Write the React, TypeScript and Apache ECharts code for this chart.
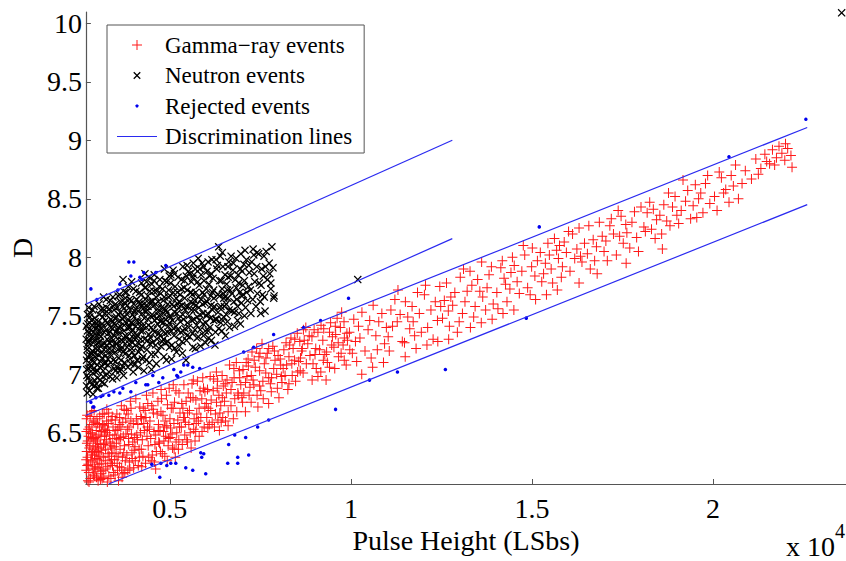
import React, { useEffect, useRef } from "react";
import * as echarts from "echarts";

const SERIF = '"Liberation Serif", "Times New Roman", serif';
const AXIS_COLOR = "#555555";

// Gamma-ray events (pulse height in LSbs, discrimination value D)
const gammaLow = [
  [2712,6.41],[2695,6.18],[2788,6.55],[2741,6.09],[2866,6.33],[2703,6.62],[2819,6.26],[2757,6.47],[2892,6.14],[2730,6.29],
  [2845,6.68],[2776,6.37],[2699,6.51],[2808,6.11],[2883,6.44],[2722,6.22],[2851,6.57],[2765,6.16],[2797,6.39],[2874,6.25],
  [2718,6.65],[2836,6.31],[2748,6.53],[2890,6.60],[2706,6.34],[2828,6.46],[2770,6.08],[2859,6.19],[2735,6.43],[2801,6.64],
  [2881,6.36],[2693,6.27],[2815,6.50],[2752,6.23],[2868,6.49],
  [2918,6.21],[3043,6.48],[2977,6.12],[3121,6.35],[2935,6.59],[3089,6.17],[3006,6.41],[2962,6.28],[3137,6.66],[3021,6.09],
  [2904,6.45],[3072,6.30],[2989,6.62],[3110,6.24],[2947,6.38],[3057,6.55],[2926,6.13],[3097,6.47],[3014,6.20],[2970,6.52],
  [3131,6.11],[3036,6.33],[2911,6.69],[3080,6.40],[2996,6.27],[3146,6.57],[2955,6.19],[3066,6.64],[3028,6.37],[2940,6.46],
  [3104,6.15],[2984,6.34],[3051,6.23],[3118,6.51],[2922,6.31],[3008,6.58],[3085,6.10],[2966,6.43],
  [3164,6.29],[3318,6.13],[3241,6.50],[3402,6.37],[3187,6.66],[3355,6.24],[3276,6.08],[3433,6.55],[3205,6.41],[3297,6.32],
  [3381,6.61],[3158,6.18],[3262,6.70],[3419,6.22],[3226,6.36],[3340,6.48],[3176,6.12],[3305,6.58],[3391,6.27],[3249,6.44],
  [3444,6.16],[3213,6.53],[3366,6.39],[3288,6.21],[3196,6.47],[3411,6.64],[3328,6.30],[3234,6.19],[3170,6.40],[3374,6.11],
  [3257,6.60],[3426,6.45],[3312,6.67],[3220,6.26],[3396,6.33],[3281,6.52],[3347,6.42],[3183,6.56],
];
const gammaRise = [
  [3462,6.38],[3611,6.21],[3539,6.66],[3717,6.47],[3489,6.14],[3650,6.55],[3574,6.30],[3772,6.26],[3508,6.52],[3683,6.12],
  [3598,6.44],[3741,6.70],[3471,6.27],[3628,6.36],[3556,6.18],[3702,6.59],[3525,6.41],[3789,6.49],[3663,6.73],[3584,6.09],
  [3496,6.61],[3729,6.33],[3642,6.46],[3548,6.24],[3758,6.16],[3616,6.63],[3480,6.48],[3693,6.29],[3566,6.53],[3749,6.39],
  [3517,6.32],[3671,6.20],[3605,6.57],[3783,6.62],[3533,6.45],[3710,6.15],
  [3814,6.31],[3992,6.58],[3897,6.19],[4106,6.44],[3851,6.66],[4048,6.26],[3940,6.49],[4172,6.72],[3829,6.53],[4015,6.35],
  [3911,6.77],[4131,6.22],[3868,6.40],[4077,6.62],[3963,6.28],[4189,6.50],[3842,6.18],[4030,6.46],[3925,6.60],[4152,6.36],
  [3885,6.25],[4063,6.79],[3977,6.42],[4118,6.57],[3807,6.69],[4002,6.20],[3954,6.33],[4090,6.48],[3875,6.55],[4160,6.29],
  [3930,6.71],[4039,6.38],[4198,6.64],[3861,6.45],
  [4213,6.36],[4452,6.60],[4330,6.24],[4611,6.48],[4268,6.71],[4518,6.31],[4385,6.55],[4673,6.77],[4241,6.44],[4487,6.26],
  [4356,6.82],[4590,6.40],[4297,6.52],[4549,6.67],[4419,6.29],[4688,6.57],[4226,6.21],[4473,6.45],[4342,6.63],[4629,6.34],
  [4283,6.58],[4534,6.84],[4404,6.39],[4652,6.66],[4258,6.30],[4501,6.73],[4371,6.47],[4575,6.25],[4319,6.69],[4438,6.53],
  [4696,6.42],[4220,6.62],[4564,6.51],[4393,6.75],
];
const gammaMid = [
  [4718,6.41],[5005,6.62],[4862,6.30],[5193,6.50],[4769,6.79],[5076,6.37],[4918,6.56],[5254,6.84],[4741,6.34],[5041,6.71],
  [4887,6.47],[5152,6.29],[4812,6.65],[5114,6.58],[4955,6.39],[5282,6.67],[4730,6.52],[4983,6.88],[4839,6.43],[5221,6.61],
  [4794,6.32],[5062,6.49],[4936,6.74],[5174,6.42],[4871,6.60],[5238,6.36],[4756,6.68],[5020,6.54],[4907,6.82],[5131,6.76],
  [4825,6.51],[5096,6.91],[4968,6.45],[5267,6.55],
  [5318,6.55],[5642,6.80],[5471,6.44],[5857,6.63],[5390,6.91],[5716,6.51],[5543,6.69],[5931,6.88],[5345,6.40],[5672,6.62],
  [5508,6.84],[5812,6.47],[5431,6.59],[5763,6.94],[5589,6.37],[5968,6.72],[5362,6.71],[5697,6.43],[5526,6.57],[5884,6.79],
  [5413,6.48],[5745,6.66],[5614,6.92],[5950,6.55],[5451,6.77],[5790,6.60],[5565,6.50],[5911,6.97],[5377,6.63],[5660,6.53],
  [5835,6.86],[5492,6.67],
  [6021,6.63],[6478,6.90],[6233,6.55],[6794,6.79],[6115,6.98],[6612,6.68],[6356,6.82],[6921,7.03],[6062,6.71],[6539,6.60],
  [6287,7.02],[6720,6.93],[6170,6.59],[6651,7.08],[6408,6.73],[6880,6.84],[6041,6.87],[6512,6.77],[6260,6.66],[6755,6.62],
  [6142,6.78],[6580,6.95],[6330,6.61],[6960,6.91],[6090,6.57],[6445,6.99],[6200,6.86],[6690,6.73],[6383,6.67],[6836,7.10],
  [6010,6.75],[6561,6.84],[6315,6.94],[6775,6.97],[6462,6.63],[6990,6.80],
  [7043,6.84],[7610,7.09],[7298,6.95],[8014,6.80],[7162,7.13],[7777,6.92],[7433,6.72],[8150,7.21],[7088,6.68],[7692,7.18],
  [7361,7.06],[7951,7.00],[7215,6.89],[7845,7.24],[7512,6.86],[8098,6.93],[7021,7.04],[7580,6.79],[7270,7.19],[7905,7.12],
  [7130,6.98],[7731,6.97],[7398,7.22],[8062,7.08],[7246,6.76],[7655,7.14],[7480,7.03],[8183,6.99],[7110,7.10],[7802,6.85],
  [7546,7.26],[7990,7.16],[7320,6.91],[7870,7.05],[7190,6.82],[7460,7.15],
  [8226,7.08],[8810,7.26],[8473,6.94],[9280,7.17],[8345,7.31],[9044,7.05],[8640,7.20],[9410,7.36],[8260,6.87],[8925,7.32],
  [8560,7.11],[9176,7.42],[8405,7.22],[9090,6.98],[8712,7.29],[9350,7.10],[8290,7.15],[8985,7.38],[8602,7.03],[9470,7.25],
  [8380,6.99],[8870,7.16],[8520,7.35],[9225,7.29],[8445,7.12],[9136,7.21],[8756,7.40],[9315,6.95],[8310,7.25],[8955,7.09],
  [8681,7.01],[9440,7.44],[8590,7.28],[9030,7.22],
];
const gammaMidExtra = [
  [4540,6.70],[4610,6.19],[4680,6.52],[4760,6.87],[4850,6.55],[4930,6.26],[5010,6.46],[5090,6.71],[5170,6.86],[5250,6.44],
  [5330,6.75],[5410,6.63],[5490,6.42],[5570,6.80],[5650,6.95],[5730,6.58],[5810,6.71],[5890,6.51],[5970,6.85],[6050,6.54],
  [6130,6.69],[6210,6.96],[6290,6.76],[6370,6.52],[6450,6.80],[6530,6.92],[6610,6.56],[6690,6.87],[6770,7.05],[6850,6.68],
  [6930,6.97],[7010,6.76],[7090,6.93],[7170,7.07],[7250,6.99],[7330,7.12],[7410,6.82],[7490,7.18],[7570,6.94],[7650,7.01],
  [7730,7.22],[7810,6.97],[7890,7.20],[7970,6.88],[8050,7.13],[8130,7.05],[8210,7.27],[8290,6.92],[8370,7.09],[8450,7.30],
  [8530,7.02],[8610,7.14],[8690,7.38],[8770,7.09],[8850,7.33],[8930,6.95],[9010,7.17],[9090,7.36],[9170,7.02],[9250,7.39],
  [9330,7.19],[9410,7.06],[9490,7.32],[9570,7.41],[9650,7.27],[9730,7.18],[9810,7.45],[9890,7.35],[9970,7.21],[5120,6.36],
  [5720,6.78],[6310,6.88],[6890,6.82],[7480,6.90],[8080,6.98],[8660,7.22],[9240,7.12],[9820,7.31],[6420,6.59],[7730,6.75],
];
const gammaHigh = [
  [9532,7.23],[10210,7.41],[9817,7.12],[10690,7.33],[9620,7.48],[10390,7.20],[9960,7.36],[10855,7.52],[9555,7.05],[10126,7.28],
  [9710,7.40],[10560,7.14],[9905,7.29],[10770,7.45],[9580,7.34],[10305,7.53],[10040,7.18],[10930,7.26],[9785,7.25],[10475,7.38],
  [9660,7.15],[10615,7.59],[10080,7.47],[10980,7.40],[9870,7.08],[10250,7.31],[9745,7.53],[10730,7.21],[10160,7.11],[10520,7.46],
  [11030,7.32],[11690,7.58],[11280,7.45],[12120,7.40],[11105,7.55],[11840,7.70],[11420,7.28],[12330,7.62],[11060,7.20],[11570,7.49],
  [11945,7.36],[12455,7.75],[11215,7.64],[11760,7.33],[11360,7.51],[12210,7.55],[11150,7.41],[12030,7.68],[11505,7.62],[12390,7.46],
  [11625,7.39],[11300,7.72],[12270,7.30],[11890,7.52],[11480,7.27],[12060,7.76],[11720,7.45],[12480,7.58],
  [12530,7.48],[13210,7.71],[12810,7.59],[13640,7.66],[12640,7.78],[13390,7.49],[12940,7.36],[13815,7.85],[12580,7.63],[13080,7.52],
  [13500,7.81],[13930,7.60],[12720,7.41],[13290,7.88],[12870,7.70],[13720,7.55],[13020,7.83],[13560,7.71],[12690,7.54],[13150,7.62],
  [13430,7.58],[13880,7.92],[12990,7.45],[13340,7.76],[12760,7.66],[13610,7.96],[13110,7.90],[13760,7.74],
  [14030,7.70],[14720,7.88],[14310,7.62],[15150,7.97],[14140,7.91],[14880,7.74],[14460,8.00],[15320,7.86],[14060,7.56],[14590,7.79],
  [15010,8.08],[15440,8.12],[14230,7.82],[14950,7.68],[14390,7.73],[15230,8.04],[14510,7.93],[15080,7.84],[14180,7.97],[14800,8.02],
  [14650,7.69],[15370,7.95],[14270,7.77],[14990,7.92],[14420,7.87],[15270,7.79],[14760,8.10],[15480,8.02],
  [10300,7.00],[10900,7.10],[11500,7.15],[12100,7.25],[12700,7.30],[13300,7.40],[13900,7.47],[14500,7.55],[15100,7.64],[15700,7.72],
  [11800,7.22],[13600,7.44],[14200,7.52],[15400,7.68],[16300,7.78],[10600,7.06],[12400,7.28],[16800,7.86],[17600,7.95],[18600,8.07],
];
const gammaTop = [
  [15530,7.90],[16240,8.07],[15810,7.83],[16690,8.15],[15620,8.16],[16380,7.96],[15950,8.04],[16860,8.30],[15570,7.78],[16120,8.20],
  [15730,7.99],[16530,8.03],[15890,8.13],[16610,7.90],[16050,7.88],[16940,8.18],[15680,8.06],[16300,8.25],[16180,7.99],[16780,8.09],
  [15840,7.92],[16450,8.12],[16010,8.22],[16730,7.97],[15760,8.10],[16570,8.27],[16340,8.01],[16990,8.05],
  [17040,8.14],[17760,8.30],[17330,8.02],[18180,8.38],[17150,8.27],[17890,8.17],[17460,8.35],[18300,8.24],[17080,7.97],[17620,8.21],
  [18010,8.43],[18440,8.32],[17250,8.20],[17940,8.05],[17520,8.12],[18250,8.47],[17380,8.40],[18090,8.26],[17700,8.08],[18400,8.16],
  [17190,8.33],[17830,8.39],[17590,8.28],[18350,8.41],[17420,8.18],[18130,8.22],
  [18530,8.36],[19240,8.48],[18810,8.27],[19660,8.55],[18640,8.45],[19380,8.33],[18950,8.52],[19790,8.63],[18580,8.20],[19120,8.40],
  [19510,8.62],[19910,8.46],[18720,8.31],[19300,8.57],[18880,8.43],[19720,8.38],[19050,8.29],[19600,8.50],[18770,8.55],[19450,8.44],
  [19170,8.66],[19850,8.70],[19000,8.36],[19550,8.34],
  [20040,8.52],[20560,8.61],[20230,8.68],[20890,8.74],[20110,8.40],[20700,8.50],[20350,8.58],[21060,8.67],[20170,8.73],[20620,8.79],
  [20440,8.47],[21180,8.84],[20290,8.55],[20800,8.63],[20500,8.70],[21320,8.76],[21430,8.88],[21560,8.80],[21640,8.92],[21750,8.85],
  [21820,8.95],[21900,8.89],[21980,8.83],[22060,8.93],[22150,8.87],[21480,8.82],[21700,8.79],[22000,8.97],[21250,8.71],[22180,8.77],
];

// Neutron events
const neutronLeft = [
  [2702,7.12],[2846,6.91],[2768,7.35],[2955,7.02],[2720,6.84],[2889,7.27],[2793,7.49],[2931,7.18],[2697,7.41],[2812,7.06],
  [2975,7.33],[2743,6.97],[2867,7.55],[2990,6.88],[2731,7.24],[2901,7.10],[2785,6.86],[2940,7.45],[2711,6.99],[2858,7.20],
  [2760,7.57],[2918,6.95],[2826,7.38],[2965,7.14],[2693,7.30],[2838,7.46],[2751,7.05],[2880,6.83],[2984,7.26],[2727,7.51],
  [2804,7.16],[2947,7.39],[2716,7.21],[2873,7.01],[2779,7.29],[2912,7.58],[2998,7.08],[2739,7.43],[2852,7.13],[2926,6.90],
  [2796,6.94],[2960,7.22],[2707,7.04],[2892,7.36],[2831,7.31],
  [3012,7.17],[3263,7.44],[3128,6.93],[3401,7.28],[3047,7.60],[3319,7.02],[3185,7.36],[3462,7.55],[3030,6.88],[3282,7.21],
  [3150,7.49],[3421,6.96],[3091,7.32],[3358,7.63],[3210,7.09],[3489,7.19],[3006,7.42],[3240,6.99],[3117,7.25],[3377,7.47],
  [3066,7.06],[3302,7.35],[3171,7.66],[3440,7.12],[3021,7.27],[3254,7.57],[3139,7.14],[3415,7.39],[3078,6.95],[3336,7.27],
  [3198,6.92],[3476,7.33],[3055,7.51],[3291,7.13],[3160,7.03],[3393,7.20],[3105,7.40],[3347,6.98],[3226,7.46],[3499,7.03],
  [3040,7.22],[3270,7.30],[3144,7.56],[3430,7.66],[3085,7.11],[3310,7.52],[3193,7.26],[3455,7.43],[3016,6.97],[3232,7.16],
  [3121,7.07],[3369,7.10],[3062,7.37],[3387,7.31],[3248,7.64],
];
const neutronCore = [
  [3514,7.26],[3822,7.51],[3663,7.04],[3980,7.38],[3571,7.67],[3905,7.13],[3740,7.42],[4066,7.71],[3538,6.97],[3866,7.29],
  [3702,7.58],[4023,7.08],[3606,7.35],[3947,7.79],[3783,7.18],[4088,7.46],[3525,7.49],[3843,7.06],[3680,7.23],[4004,7.60],
  [3590,7.14],[3926,7.44],[3761,7.70],[4049,7.25],[3552,7.38],[3885,7.64],[3724,6.99],[3962,7.19],[3628,7.53],[4035,7.35],
  [3801,7.32],[3505,7.11],[3857,7.75],[3691,7.47],[3990,7.02],[3579,7.21],[3913,7.55],[3752,7.10],[4077,7.31],[3641,7.62],
  [3968,7.27],[3812,7.44],[3545,7.57],[3877,7.16],[3716,7.28],[4014,7.49],[3617,7.03],[3935,7.36],[3776,7.65],[4097,7.12],
  [3563,7.30],[3895,7.40],[3733,7.37],[3655,7.12],[3831,7.59],[3998,7.73],[3598,7.45],[3952,7.22],[3710,7.81],[4058,7.56],
  [4112,7.33],[4455,7.62],[4270,7.15],[4641,7.48],[4166,7.70],[4520,7.27],[4338,7.53],[4726,7.81],[4135,7.06],[4489,7.40],
  [4309,7.74],[4672,7.20],[4205,7.45],[4571,7.85],[4384,7.29],[4770,7.57],[4124,7.54],[4437,7.10],[4251,7.37],[4618,7.66],
  [4190,7.22],[4545,7.50],[4360,7.79],[4700,7.35],[4152,7.62],[4505,7.77],[4287,7.03],[4659,7.43],[4229,7.59],[4595,7.17],
  [4412,7.42],[4751,7.69],[4178,7.41],[4470,7.31],[4322,7.64],[4686,7.53],[4241,7.13],[4559,7.71],[4399,7.47],[4790,7.28],
  [4143,7.19],[4427,7.83],[4299,7.48],[4630,7.09],[4218,7.78],[4582,7.36],[4370,7.21],[4739,7.45],[4262,7.56],[4608,7.60],
  [4349,7.12],[4713,7.75],[4196,7.30],[4532,7.58],[4445,7.26],[4762,7.39],[4315,7.86],[4652,7.30],[4497,7.04],[4395,7.67],
  [4812,7.44],[5210,7.70],[4990,7.23],[5430,7.55],[4866,7.80],[5305,7.36],[5065,7.60],[5515,7.88],[4838,7.15],[5246,7.48],
  [5030,7.85],[5462,7.29],[4925,7.53],[5362,7.92],[5118,7.33],[5578,7.62],[4820,7.63],[5185,7.19],[4958,7.41],[5395,7.74],
  [4893,7.27],[5330,7.59],[5092,7.89],[5490,7.44],[4850,7.90],[5270,7.24],[5012,7.67],[5447,7.12],[4940,7.36],[5378,7.47],
  [5145,7.75],[5550,7.32],[4880,7.47],[5228,7.83],[5050,7.13],[5412,7.65],[4970,7.72],[5350,7.18],[5170,7.41],[5595,7.79],
  [4830,7.30],[5287,7.68],[5004,7.50],[5478,7.93],[4907,7.12],[5320,7.81],[5106,7.58],[5532,7.50],[4855,7.56],[5196,7.52],
  [5040,7.37],[5418,7.39],[4985,7.84],[5258,7.30],[5130,7.22],[5565,7.70],[4948,7.60],[5340,7.28],[5080,7.46],[5500,7.58],
];
const neutronRight = [
  [5612,7.46],[6010,7.73],[5790,7.32],[6230,7.58],[5666,7.85],[6105,7.40],[5865,7.64],[6315,7.93],[5638,7.23],[6046,7.52],
  [5830,7.90],[6262,7.36],[5725,7.59],[6162,7.98],[5918,7.43],[6378,7.67],[5620,7.68],[5985,7.27],[5758,7.49],[6195,7.82],
  [5693,7.38],[6130,7.67],[5892,7.95],[6290,7.47],[5650,7.95],[6070,7.31],[5812,7.76],[6247,7.25],[5740,7.42],[6178,7.55],
  [5945,7.80],[6350,7.39],[5680,7.55],[6028,7.88],[5850,7.24],[6212,7.72],[5770,7.79],[6150,7.29],[5970,7.61],[6395,8.01],
  [5630,7.35],[6087,7.77],[5804,7.57],[6278,7.98],[5707,7.22],[6120,7.48],[5906,7.70],[6332,7.53],[5655,7.60],[5996,7.44],
  [5840,7.38],[6218,7.65],[5785,7.99],[6058,7.96],[5930,7.33],
  [6412,7.58],[6810,7.81],[6590,7.45],[7030,7.68],[6466,7.92],[6905,7.52],[6665,7.72],[7115,7.98],[6438,7.37],[6846,7.64],
  [6630,7.96],[7062,7.50],[6525,7.66],[6962,8.03],[6718,7.54],[7178,7.75],[6420,7.80],[6785,7.41],[6558,7.60],[6995,7.88],
  [6493,7.49],[6930,7.70],[6692,8.01],[7090,7.57],[6450,8.04],[6870,7.46],[6612,7.83],[7047,7.94],[6540,7.33],[6978,7.61],
  [6745,7.89],[7150,7.63],[6480,7.69],[6828,7.99],[6650,7.40],[7012,7.76],[6570,7.77],[6950,7.43],[6770,7.62],[7195,7.87],
  [6430,7.47],[6887,7.85],[6604,7.65],[7078,8.06],[6507,7.58],
  [7225,7.72],[7540,7.90],[7380,7.58],[7700,7.81],[7262,7.96],[7610,7.66],[7455,8.03],[7790,7.73],[7240,7.52],[7580,7.84],
  [7420,7.69],[7745,7.95],[7330,7.86],[7660,8.05],[7500,7.62],[7850,7.91],[7300,8.07],[7630,7.54],[7470,7.78],[7880,7.67],
  [6350,8.09],[7320,8.02],[7600,8.01],[7820,8.09],[7870,7.65],[7510,7.52],[7790,7.78],[7410,8.04],
  [10190,7.81],[23550,10.09],
];
const neutronExtra = [
  [2725,7.37],[2862,7.42],[2790,7.09],[2945,7.29],[3025,7.45],[3110,7.18],[3205,7.52],[3290,7.08],[2700,6.90],[2812,7.52],
  [2905,7.05],[2988,7.40],[3075,7.28],[3162,6.98],[3245,7.38],[2756,7.27],[2840,7.18],[2925,7.48],[3010,7.03],[3098,7.55],
  [3180,7.21],[3265,7.25],[2735,7.15],[2877,7.33],[2970,6.92],[3050,7.34],[3135,7.43],[3222,7.10],[3300,7.43],[2784,7.44],
  [3335,7.56],[3412,7.24],[3488,7.48],[3560,7.06],[3635,7.41],[3712,7.19],[3790,7.54],[3865,7.40],[3942,7.63],[4020,7.16],
  [3360,7.17],[3438,7.58],[3515,7.36],[3590,7.51],[3668,7.29],[3745,7.61],[3820,7.23],[3898,7.30],[3975,7.51],[4055,7.41],
  [3385,7.40],[3465,7.05],[3540,7.26],[3615,7.68],[3695,7.07],[3770,7.33],[3848,7.47],[3922,7.09],[4000,7.31],[4080,7.64],
  [3350,7.36],[3428,7.45],[3502,7.60],[3578,7.40],[3652,7.21],[3728,7.49],[3805,7.70],[3880,7.26],[3958,7.44],[4035,7.54],
  [4120,7.45],[4215,7.68],[4305,7.30],[4400,7.58],[4490,7.17],[4585,7.46],[4680,7.62],[4775,7.46],[4870,7.35],[4965,7.66],
  [4145,7.26],[4238,7.52],[4330,7.74],[4425,7.34],[4515,7.62],[4610,7.25],[4705,7.50],[4800,7.73],[4895,7.55],[4990,7.44],
  [4170,7.60],[4262,7.41],[4355,7.40],[4450,7.71],[4540,7.38],[4635,7.71],[4730,7.33],[4825,7.52],[4920,7.79],[4105,7.12],
  [4195,7.37],[4290,7.60],[4380,7.55],[4475,7.50],[4565,7.80],[4660,7.56],[4755,7.24],[4845,7.66],[4940,7.28],[4230,7.24],
  [5025,7.78],[5140,7.53],[5255,7.62],[5370,7.37],[5485,7.72],[5600,7.55],[5715,7.70],[5830,7.51],[5945,7.68],[5060,7.25],
  [5175,7.65],[5290,7.45],[5405,7.80],[5520,7.40],[5635,7.82],[5750,7.31],[5865,7.85],[5980,7.37],[5095,7.70],[5210,7.38],
  [5325,7.73],[5440,7.58],[5555,7.86],[5670,7.47],[5785,7.66],[5900,7.60],[5015,7.48],[5130,7.86],[5245,7.57],[5360,7.51],
  [5475,7.33],[5590,7.70],[5705,7.90],[5820,7.46],[5935,7.92],[5110,7.39],[5225,7.60],[5455,7.84],[5690,7.63],[5915,7.52],
  [6030,7.62],[6145,7.86],[6260,7.47],[6375,7.80],[6490,7.65],[6605,7.92],[6720,7.69],[6835,7.74],[6950,7.90],[6065,7.37],
  [6180,7.70],[6295,7.90],[6410,7.44],[6525,7.85],[6640,7.55],[6755,7.95],[6870,7.58],[6985,7.67],[6100,7.84],[6215,7.46],
  [6330,7.68],[6445,7.73],[6560,7.51],[6675,7.84],[6790,7.53],[6905,7.78],[6015,7.50],[6140,7.59],[6365,7.57],[6590,7.72],
  [7060,7.80],[7180,7.93],[7290,7.64],[7400,7.92],[7520,7.76],[7640,7.92],[7760,7.86],[7120,7.70],[7350,7.79],[7560,7.68],
];

// Rejected events
const rejectedEvents = [
  [3870,7.96],[4007,7.96],[3925,7.84],[4173,7.83],[4283,7.87],[4228,7.81],[4614,7.87],[4890,7.93],[2822,7.73],[2987,7.64],
  [3621,7.77],[3566,7.72],[5386,7.08],[5496,7.08],[5634,7.06],[5303,7.02],[5220,6.98],[4807,6.97],[4696,6.93],[4338,6.91],
  [4062,6.93],[3704,6.88],[3456,6.85],[3318,6.82],[3153,6.82],[2960,6.80],[2822,6.76],[2905,6.72],[7316,7.23],[7867,7.34],
  [7040,7.19],[5827,7.05],[5193,6.99],[5110,7.04],[4531,6.99],[4393,6.91],[3925,6.85],[3621,6.84],[3098,6.81],[2877,6.72],
  [7729,6.61],[7426,6.55],[7095,6.46],[6792,6.48],[6626,6.40],[7178,6.31],[6875,6.29],[6875,6.24],[6599,6.24],[5992,6.15],
  [5634,6.18],[5441,6.20],[5165,6.24],[5027,6.24],[4917,6.22],[4752,6.24],[5855,6.33],[5937,6.32],[5882,6.29],[4724,6.12],
  [4504,6.23],[15201,8.26],[9935,7.65],[9163,7.46],[8694,7.40],[9577,6.70],[10514,6.95],[11286,7.02],[12609,7.04],[14843,7.48],
  [20439,8.86],[22562,9.18],
];

// Discrimination lines (end points)
const neutronUpperLine = [[2684, 7.6], [12800, 9.0]];
const neutronLowerLine = [[2684, 6.76], [12800, 8.16]];
const gammaUpperLine = [[2684, 6.65], [22600, 9.11]];
const gammaLowerLine = [[3310, 6.062], [22600, 8.45]];

const xTicks = [5000, 10000, 15000, 20000];
const yTicks = [6.5, 7, 7.5, 8, 8.5, 9, 9.5, 10];

const GAMMA = "Gamma\u2212ray events";
const NEUTRON = "Neutron events";
const REJECTED = "Rejected events";
const LINES = "Discrimination lines";

const PLUS = "path://M4.5,0H5.5V4.5H10V5.5H5.5V10H4.5V5.5H0V4.5H4.5Z";
const CROSS = "path://M1.1,0L5,3.9L8.9,0L10,1.1L6.1,5L10,8.9L8.9,10L5,6.1L1.1,10L0,8.9L3.9,5L0,1.1Z";
const CROSS_LEGEND = "path://M0,0M10,10M2.2,1.3L5,4.1L7.8,1.3L8.7,2.2L5.9,5L8.7,7.8L7.8,8.7L5,5.9L2.2,8.7L1.3,7.8L4.1,5L1.3,2.2Z";
const DOT_LEGEND = "path://M0,0M10,10M4.2,3.6H5.8L6.4,4.2V5.8L5.8,6.4H4.2L3.6,5.8V4.2Z";
const LINE_LEGEND = "path://M0,0M40,10M0,4.5H40V5.5H0Z";

const lineSeries = (data: number[][]) => ({
  name: LINES,
  type: "line",
  data,
  symbol: "none",
  showSymbol: false,
  silent: true,
  clip: true,
  lineStyle: { color: "#2a2af0", width: 1.2 },
  itemStyle: { color: "#2a2af0" },
  z: 5,
});

export default function App() {
  const ref = useRef<HTMLDivElement>(null);
  useEffect(() => {
    document.body.style.margin = "0";
    const chart = echarts.init(ref.current!, null, { renderer: "svg" });
    chart.setOption({
      animation: false,
      backgroundColor: "#ffffff",
      grid: { left: 85, right: 0, top: 12, bottom: 77, containLabel: false },
      xAxis: {
        type: "value",
        min: 2684,
        max: 23670,
        name: "Pulse Height (LSbs)",
        nameLocation: "middle",
        nameGap: 34,
        nameTextStyle: { fontFamily: SERIF, fontSize: 28, color: "#000" },
        axisLine: { show: true, onZero: false, lineStyle: { color: AXIS_COLOR, width: 1.2 } },
        axisTick: { show: true, inside: true, length: 5, customValues: xTicks, lineStyle: { color: AXIS_COLOR } },
        axisLabel: {
          customValues: xTicks,
          formatter: (v: number) => String(v / 10000),
          fontFamily: SERIF,
          fontSize: 28,
          color: "#000",
          margin: 10,
        },
        splitLine: { show: false },
      },
      yAxis: {
        type: "value",
        min: 6.062,
        max: 10.097,
        name: "D",
        nameLocation: "middle",
        nameGap: 46,
        nameTextStyle: { fontFamily: SERIF, fontSize: 28, color: "#000" },
        axisLine: { show: true, onZero: false, lineStyle: { color: AXIS_COLOR, width: 1.2 } },
        axisTick: { show: true, inside: true, length: 5, customValues: yTicks, lineStyle: { color: AXIS_COLOR } },
        axisLabel: {
          customValues: yTicks,
          formatter: (v: number) => String(v),
          fontFamily: SERIF,
          fontSize: 28,
          color: "#000",
          margin: 4,
        },
        splitLine: { show: false },
      },
      legend: {
        show: true,
        orient: "vertical",
        left: 107,
        top: 25,
        padding: [8.5, 12, 5, 10],
        itemGap: 7.5,
        itemWidth: 40,
        itemHeight: 10,
        selectedMode: false,
        borderColor: "#555",
        borderWidth: 1,
        backgroundColor: "#fff",
        textStyle: { fontFamily: SERIF, fontSize: 23, color: "#000", lineHeight: 23, padding: [0, 0, 0, 3] },
        data: [
          { name: GAMMA, icon: PLUS },
          { name: NEUTRON, icon: CROSS_LEGEND },
          { name: REJECTED, icon: DOT_LEGEND },
          { name: LINES, icon: LINE_LEGEND },
        ],
      },
      series: [
        {
          name: GAMMA,
          type: "scatter",
          data: [...gammaLow, ...gammaRise, ...gammaMid, ...gammaMidExtra, ...gammaHigh, ...gammaTop],
          symbol: PLUS,
          symbolSize: 10,
          itemStyle: { color: "#ff1818", opacity: 1 },
          silent: true,
          z: 2,
        },
        {
          name: NEUTRON,
          type: "scatter",
          data: [...neutronLeft, ...neutronCore, ...neutronRight, ...neutronExtra],
          symbol: CROSS,
          symbolSize: 8,
          itemStyle: { color: "#000000", opacity: 1 },
          silent: true,
          z: 3,
        },
        {
          name: REJECTED,
          type: "scatter",
          data: rejectedEvents,
          symbol: "circle",
          symbolSize: 3.5,
          itemStyle: { color: "#0000ee", opacity: 1 },
          silent: true,
          z: 4,
        },
        lineSeries(neutronUpperLine),
        lineSeries(neutronLowerLine),
        lineSeries(gammaUpperLine),
        lineSeries(gammaLowerLine),
      ],
      graphic: [
        {
          type: "text",
          left: 786,
          top: 532,
          style: { text: "x 10", fontSize: 28, fontFamily: SERIF, fill: "#000" },
        },
        {
          type: "text",
          left: 835,
          top: 521,
          style: { text: "4", fontSize: 20, fontFamily: SERIF, fill: "#000" },
        },
      ],
    });
    return () => chart.dispose();
  }, []);
  return <div ref={ref} style={{ width: 846, height: 561, background: "#fff" }} />;
}
